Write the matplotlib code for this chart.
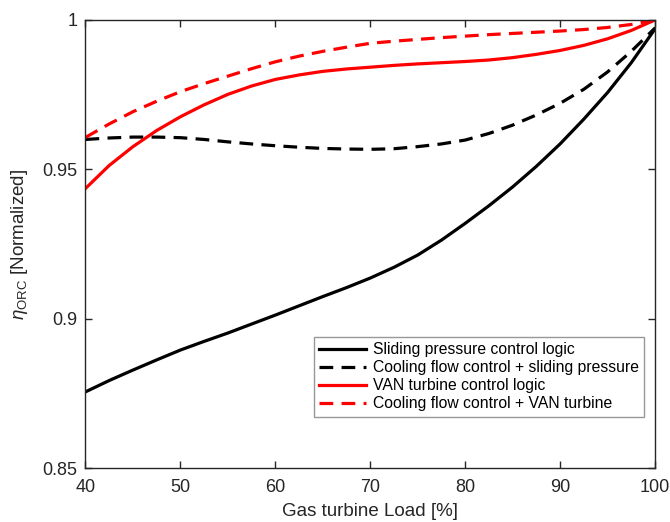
import matplotlib
matplotlib.use("Agg")
import matplotlib.pyplot as plt

plt.rcParams['font.family'] = ['Liberation Sans', 'DejaVu Sans']
plt.rcParams['mathtext.fontset'] = 'custom'
plt.rcParams['mathtext.rm'] = 'Liberation Sans'
plt.rcParams['mathtext.it'] = 'Liberation Sans:italic'

load = [40, 42.5, 45, 47.5, 50, 52.5, 55, 57.5, 60, 62.5, 65, 67.5, 70,
        72.5, 75, 77.5, 80, 82.5, 85, 87.5, 90, 92.5, 95, 97.5, 100]

sliding = [0.8755, 0.8793, 0.8828, 0.8862, 0.8895, 0.8924, 0.8952, 0.8982,
           0.9012, 0.9043, 0.9074, 0.9104, 0.9136, 0.9172, 0.9213, 0.9263,
           0.9319, 0.9378, 0.9441, 0.9510, 0.9585, 0.9668, 0.9757, 0.9857,
           0.9970]
cooling_sliding = [0.9600, 0.9605, 0.9608, 0.9608, 0.9606, 0.9600, 0.9592,
                   0.9585, 0.9579, 0.9574, 0.9570, 0.9568, 0.9567, 0.9569,
                   0.9576, 0.9585, 0.9598, 0.9620, 0.9648, 0.9682, 0.9721,
                   0.9768, 0.9826, 0.9895, 0.9973]
van = [0.9436, 0.9513, 0.9576, 0.9630, 0.9676, 0.9716, 0.9751, 0.9779,
       0.9801, 0.9816, 0.9828, 0.9836, 0.9842, 0.9848, 0.9853, 0.9857,
       0.9861, 0.9866, 0.9874, 0.9885, 0.9898, 0.9915, 0.9937, 0.9965,
       1.0000]
cooling_van = [0.9607, 0.9652, 0.9693, 0.9728, 0.9760, 0.9787, 0.9812,
               0.9837, 0.9860, 0.9879, 0.9895, 0.9909, 0.9922, 0.9929,
               0.9935, 0.9941, 0.9946, 0.9951, 0.9955, 0.9959, 0.9963,
               0.9968, 0.9975, 0.9985, 1.0000]

labels = ['Sliding pressure control logic',
          'Cooling flow control + sliding pressure',
          'VAN turbine control logic',
          'Cooling flow control + VAN turbine']

x_ticks = [40, 50, 60, 70, 80, 90, 100]
y_ticks = [0.85, 0.9, 0.95, 1.0]
y_tick_labels = ['0.85', '0.9', '0.95', '1']

fig = plt.figure(figsize=(6.7, 5.22), dpi=100)
ax = fig.add_axes([0.1276, 0.1034, 0.85, 0.8583])

lw = 2.3
dash = (0, (4.3, 2.6))
ax.plot(load, sliding, color='black', lw=lw, label=labels[0])
ax.plot(load, cooling_sliding, color='black', lw=lw, linestyle=dash, label=labels[1])
ax.plot(load, van, color='#ff0000', lw=lw, label=labels[2])
ax.plot(load, cooling_van, color='#ff0000', lw=lw, linestyle=dash, label=labels[3])

ax.set_xlim(40, 100)
ax.set_ylim(0.85, 1.0)
ax.set_xticks(x_ticks)
ax.set_yticks(y_ticks)
ax.set_yticklabels(y_tick_labels)

axis_col = '#262626'
for s in ax.spines.values():
    s.set_color(axis_col)
    s.set_linewidth(1.0)
ax.tick_params(direction='in', length=5, width=1.0, colors=axis_col,
               labelsize=13, top=True, right=True)
ax.tick_params(axis='x', pad=8)
ax.tick_params(axis='y', pad=6)

ax.set_xlabel('Gas turbine Load [%]', fontsize=13.5, color=axis_col, labelpad=5)
ax.set_ylabel(r'$\eta_{\mathrm{ORC}}$ [Normalized]', fontsize=13.5, color=axis_col, labelpad=9)

leg = ax.legend(loc='lower right', bbox_to_anchor=(0.981, 0.114), fontsize=11.3,
                frameon=True, fancybox=False, handlelength=3.0, handletextpad=0.4,
                borderpad=0.35, labelspacing=0.2, borderaxespad=0)
leg.get_frame().set_edgecolor('#7f7f7f')
leg.get_frame().set_linewidth(1.0)

fig.savefig('out.png', dpi=100)
